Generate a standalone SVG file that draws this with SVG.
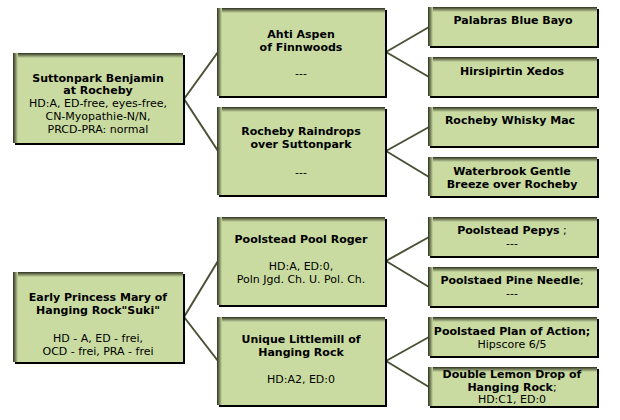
<svg xmlns="http://www.w3.org/2000/svg" width="620" height="420" viewBox="0 0 620 420">
<defs>
<linearGradient id="gt" x1="0" y1="0" x2="0" y2="1"><stop offset="0" stop-color="#2e3120"/><stop offset="1" stop-color="#c9dba1"/></linearGradient>
<linearGradient id="gl" x1="0" y1="0" x2="1" y2="0"><stop offset="0" stop-color="#2e3120"/><stop offset="1" stop-color="#c9dba1"/></linearGradient>
<style>
.sh{fill:#000}
.bx{fill:#c9dba1}
.et{fill:url(#gt)}
.el{fill:url(#gl)}
text{font-family:"DejaVu Sans",Verdana,sans-serif;font-size:11px;fill:#000;text-anchor:middle}
.b{font-weight:bold}
.r{font-weight:normal}
#connectors line{stroke:#4a5236;stroke-width:2}
</style>
</defs>
<rect width="620" height="420" fill="#fff"/>
<g id="connectors">
<line x1="184" y1="99" x2="218" y2="52"/>
<line x1="184" y1="99" x2="218" y2="151"/>
<line x1="386" y1="52" x2="429" y2="27"/>
<line x1="386" y1="52" x2="429" y2="77"/>
<line x1="386" y1="151" x2="429" y2="127"/>
<line x1="386" y1="151" x2="429" y2="177"/>
<line x1="184" y1="317" x2="218" y2="261"/>
<line x1="184" y1="317" x2="218" y2="361"/>
<line x1="386" y1="261" x2="429" y2="237"/>
<line x1="386" y1="261" x2="429" y2="287"/>
<line x1="386" y1="361" x2="429" y2="337"/>
<line x1="386" y1="361" x2="429" y2="387"/>
</g>
<g id="n1">
<rect class="sh" x="15" y="55" width="170" height="90"/><rect class="bx" x="13" y="53" width="170" height="90"/>
<rect class="et" x="13" y="53" width="170" height="5"/><rect class="el" x="13" y="53" width="5" height="90"/>
<text x="98" y="82" class="b">Suttonpark Benjamin</text>
<text x="98" y="94" class="b">at Rocheby</text>
<text x="98" y="107">HD:A, ED-free, eyes-free,</text>
<text x="98" y="120">CN-Myopathie-N/N,</text>
<text x="98" y="133">PRCD-PRA: normal</text>
</g>
<g id="n2">
<rect class="sh" x="219" y="10" width="168" height="88"/><rect class="bx" x="217" y="8" width="168" height="88"/>
<rect class="et" x="217" y="8" width="168" height="5"/><rect class="el" x="217" y="8" width="5" height="88"/>
<text x="301" y="38" class="b">Ahti Aspen</text>
<text x="301" y="51" class="b">of Finnwoods</text>
<text x="301" y="77">---</text>
</g>
<g id="n3">
<rect class="sh" x="219" y="109" width="168" height="88"/><rect class="bx" x="217" y="107" width="168" height="88"/>
<rect class="et" x="217" y="107" width="168" height="5"/><rect class="el" x="217" y="107" width="5" height="88"/>
<text x="301" y="135" class="b">Rocheby Raindrops</text>
<text x="301" y="148" class="b">over Suttonpark</text>
<text x="301" y="176">---</text>
</g>
<g id="n4">
<rect class="sh" x="430" y="9" width="169" height="39"/><rect class="bx" x="428" y="7" width="169" height="39"/>
<rect class="et" x="428" y="7" width="169" height="5"/><rect class="el" x="428" y="7" width="5" height="39"/>
<text x="513" y="24" class="b">Palabras Blue Bayo</text>
</g>
<g id="n5">
<rect class="sh" x="430" y="59" width="169" height="39"/><rect class="bx" x="428" y="57" width="169" height="39"/>
<rect class="et" x="428" y="57" width="169" height="5"/><rect class="el" x="428" y="57" width="5" height="39"/>
<text x="512" y="75" class="b">Hirsipirtin Xedos</text>
</g>
<g id="n6">
<rect class="sh" x="430" y="109" width="169" height="39"/><rect class="bx" x="428" y="107" width="169" height="39"/>
<rect class="et" x="428" y="107" width="169" height="5"/><rect class="el" x="428" y="107" width="5" height="39"/>
<text x="510" y="124" class="b">Rocheby Whisky Mac</text>
</g>
<g id="n7">
<rect class="sh" x="430" y="159" width="169" height="39"/><rect class="bx" x="428" y="157" width="169" height="39"/>
<rect class="et" x="428" y="157" width="169" height="5"/><rect class="el" x="428" y="157" width="5" height="39"/>
<text x="512" y="175" class="b">Waterbrook Gentle</text>
<text x="512" y="188" class="b">Breeze over Rocheby</text>
</g>
<g id="n8">
<rect class="sh" x="15" y="274" width="170" height="90"/><rect class="bx" x="13" y="272" width="170" height="90"/>
<rect class="et" x="13" y="272" width="170" height="5"/><rect class="el" x="13" y="272" width="5" height="90"/>
<text x="98" y="301" class="b">Early Princess Mary of</text>
<text x="98" y="314" class="b">Hanging Rock"Suki"</text>
<text x="98" y="342">HD - A, ED - frei,</text>
<text x="98" y="355">OCD - frei, PRA - frei</text>
</g>
<g id="n9">
<rect class="sh" x="219" y="219" width="168" height="88"/><rect class="bx" x="217" y="217" width="168" height="88"/>
<rect class="et" x="217" y="217" width="168" height="5"/><rect class="el" x="217" y="217" width="5" height="88"/>
<text x="301" y="243" class="b">Poolstead Pool Roger</text>
<text x="301" y="270">HD:A, ED:0,</text>
<text x="301" y="283">Poln Jgd. Ch. U. Pol. Ch.</text>
</g>
<g id="n10">
<rect class="sh" x="219" y="319" width="168" height="88"/><rect class="bx" x="217" y="317" width="168" height="88"/>
<rect class="et" x="217" y="317" width="168" height="5"/><rect class="el" x="217" y="317" width="5" height="88"/>
<text x="301" y="343" class="b">Unique Littlemill of</text>
<text x="301" y="356" class="b">Hanging Rock</text>
<text x="301" y="383">HD:A2, ED:0</text>
</g>
<g id="n11">
<rect class="sh" x="430" y="219" width="169" height="39"/><rect class="bx" x="428" y="217" width="169" height="39"/>
<rect class="et" x="428" y="217" width="169" height="5"/><rect class="el" x="428" y="217" width="5" height="39"/>
<text x="512" y="234"><tspan class="b">Poolstead Pepys</tspan> ;</text>
<text x="512" y="247">---</text>
</g>
<g id="n12">
<rect class="sh" x="430" y="269" width="169" height="39"/><rect class="bx" x="428" y="267" width="169" height="39"/>
<rect class="et" x="428" y="267" width="169" height="5"/><rect class="el" x="428" y="267" width="5" height="39"/>
<text x="512" y="284"><tspan class="b">Poolstaed Pine Needle</tspan>;</text>
<text x="512" y="297">---</text>
</g>
<g id="n13">
<rect class="sh" x="430" y="319" width="169" height="39"/><rect class="bx" x="428" y="317" width="169" height="39"/>
<rect class="et" x="428" y="317" width="169" height="5"/><rect class="el" x="428" y="317" width="5" height="39"/>
<text x="512" y="335" class="b">Poolstaed Plan of Action;</text>
<text x="512" y="348">Hipscore 6/5</text>
</g>
<g id="n14">
<rect class="sh" x="430" y="369" width="169" height="39"/><rect class="bx" x="428" y="367" width="169" height="39"/>
<rect class="et" x="428" y="367" width="169" height="5"/><rect class="el" x="428" y="367" width="5" height="39"/>
<text x="512" y="378" class="b">Double Lemon Drop of</text>
<text x="512" y="391"><tspan class="b">Hanging Rock</tspan>;</text>
<text x="512" y="403">HD:C1, ED:0</text>
</g>
</svg>
